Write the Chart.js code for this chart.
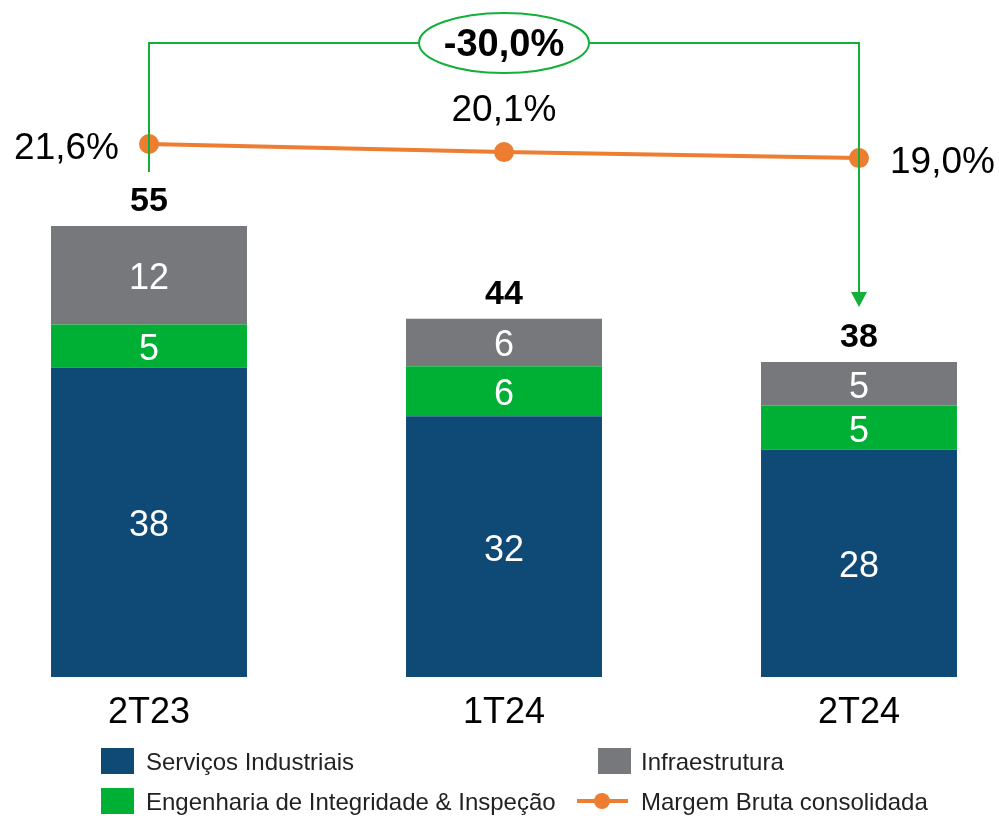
<!DOCTYPE html>
<html>
<head>
<meta charset="utf-8">
<script src="https://cdn.jsdelivr.net/npm/chart.js@4"></script>
<style>
  html, body { margin: 0; padding: 0; background: #fff; }
</style>
</head>
<body>
<canvas id="margemBruta" width="999" height="816"></canvas>
<script>
// dados (R$ milhões / %)
const periodos = ['2T23', '1T24', '2T24'];
const servicosIndustriais = [37.7, 31.8, 27.7];
const engenhariaIntegridade = [5.3, 6.1, 5.4];
const infraestrutura = [12.0, 5.8, 5.3];
const margemBruta = [21.6, 20.1, 19.0];
const variacao = '-30,0%';

const FONTE = '"Liberation Sans", Arial, sans-serif';
const VERDE_SETA = '#12B03A';

function totalDe(i) {
    return servicosIndustriais[i] + engenhariaIntegridade[i] + infraestrutura[i];
}

function pct(v) {
    return v.toFixed(1).replace('.', ',') + '%';
}

const rotulos = {
    id: 'rotulos',
    afterDatasetsDraw(chart) {
        const ctx = chart.ctx;
        const x = chart.scales.x;
        const y = chart.scales.y;
        ctx.save();
        ctx.textAlign = 'center';
        ctx.textBaseline = 'middle';

        // valores dentro das barras
        ctx.fillStyle = '#fff';
        ctx.font = '36px ' + FONTE;
        [0, 1, 2].forEach(d => {
            chart.getDatasetMeta(d).data.forEach((bar, i) => {
                const v = chart.data.datasets[d].data[i];
                ctx.fillText(Math.round(v), bar.x, (bar.y + bar.base) / 2 + 4);
            });
        });

        // totais
        ctx.fillStyle = '#000';
        ctx.font = 'bold 34px ' + FONTE;
        periodos.forEach((p, i) => {
            const topo = y.getPixelForValue(totalDe(i));
            ctx.fillText(Math.round(totalDe(i)), x.getPixelForValue(i), topo - 24);
        });

        // rótulos da margem
        ctx.font = '37px ' + FONTE;
        const pts = chart.getDatasetMeta(3).data;
        ctx.textAlign = 'right';
        ctx.fillText(pct(margemBruta[0]), pts[0].x - 30, pts[0].y + 5);
        ctx.textAlign = 'center';
        ctx.fillText(pct(margemBruta[1]), pts[1].x, pts[1].y - 41);
        ctx.textAlign = 'left';
        ctx.fillText(pct(margemBruta[2]), pts[2].x + 31, pts[2].y + 5);

        // rótulos do eixo x
        ctx.textAlign = 'center';
        ctx.font = '36px ' + FONTE;
        periodos.forEach((p, i) => {
            ctx.fillText(p, x.getPixelForValue(i), 713);
        });

        // colchete com a variação
        const x0 = x.getPixelForValue(0);
        const x2 = x.getPixelForValue(2);
        const yTopo = 43;
        const fimEsq = y.getPixelForValue(totalDe(0)) - 54;
        const fimDir = y.getPixelForValue(totalDe(2)) - 55;
        ctx.strokeStyle = VERDE_SETA;
        ctx.lineWidth = 2;
        ctx.beginPath();
        ctx.moveTo(x0, fimEsq);
        ctx.lineTo(x0, yTopo);
        ctx.lineTo(x2, yTopo);
        ctx.lineTo(x2, fimDir - 12);
        ctx.stroke();
        ctx.fillStyle = VERDE_SETA;
        ctx.beginPath();
        ctx.moveTo(x2 - 8, fimDir - 15);
        ctx.lineTo(x2 + 8, fimDir - 15);
        ctx.lineTo(x2, fimDir);
        ctx.closePath();
        ctx.fill();

        const xm = (x0 + x2) / 2;
        ctx.beginPath();
        ctx.ellipse(xm, yTopo, 85, 30, 0, 0, Math.PI * 2);
        ctx.fillStyle = '#fff';
        ctx.fill();
        ctx.stroke();
        ctx.fillStyle = '#000';
        ctx.font = 'bold 38px ' + FONTE;
        ctx.fillText(variacao, xm, yTopo + 3);

        // legenda
        const ds = chart.data.datasets;
        ctx.font = '24px ' + FONTE;
        ctx.textAlign = 'left';
        ctx.fillStyle = ds[0].backgroundColor;
        ctx.fillRect(101, 748, 33, 26);
        ctx.fillStyle = ds[2].backgroundColor;
        ctx.fillRect(598, 748, 33, 26);
        ctx.fillStyle = ds[1].backgroundColor;
        ctx.fillRect(101, 788, 33, 26);
        ctx.strokeStyle = ds[3].borderColor;
        ctx.lineWidth = 4;
        ctx.beginPath();
        ctx.moveTo(577, 801);
        ctx.lineTo(628, 801);
        ctx.stroke();
        ctx.fillStyle = ds[3].borderColor;
        ctx.beginPath();
        ctx.arc(602, 801, 8, 0, Math.PI * 2);
        ctx.fill();

        ctx.fillStyle = '#222';
        ctx.fillText(ds[0].label, 146, 763);
        ctx.fillText(ds[2].label, 641, 763);
        ctx.fillText(ds[1].label, 146, 803);
        ctx.fillText(ds[3].label, 641, 803);
        ctx.restore();
    }
};

const ctx = document.getElementById('margemBruta').getContext('2d');
const grafico = new Chart(ctx, {
    type: 'bar',
    data: {
        labels: periodos,
        datasets: [{
            label: 'Serviços Industriais',
            data: servicosIndustriais,
            backgroundColor: '#0F4975',
            stack: 'receita',
            clip: false
        }, {
            label: 'Engenharia de Integridade & Inspeção',
            data: engenhariaIntegridade,
            backgroundColor: '#00B034',
            stack: 'receita',
            clip: false
        }, {
            label: 'Infraestrutura',
            data: infraestrutura,
            backgroundColor: '#77787B',
            stack: 'receita',
            clip: false
        }, {
            type: 'line',
            label: 'Margem Bruta consolidada',
            data: margemBruta,
            yAxisID: 'y2',
            borderColor: '#ED7D31',
            backgroundColor: '#ED7D31',
            borderWidth: 4,
            pointRadius: 8,
            pointHoverRadius: 8,
            tension: 0,
            clip: false
        }]
    },
    options: {
        responsive: false,
        devicePixelRatio: 1,
        animation: false,
        layout: {
            autoPadding: false,
            padding: { left: 149, right: 140, top: 0, bottom: 139 }
        },
        datasets: {
            bar: { categoryPercentage: 1, barPercentage: 0.552 }
        },
        scales: {
            x: { display: false, offset: false, stacked: true },
            y: { display: false, stacked: true, min: 0, max: 82.56 },
            y2: { display: false, min: -77.1, max: 48.27 }
        },
        plugins: {
            legend: { display: false },
            tooltip: { enabled: false }
        }
    },
    plugins: [rotulos]
});
</script>
</body>
</html>
